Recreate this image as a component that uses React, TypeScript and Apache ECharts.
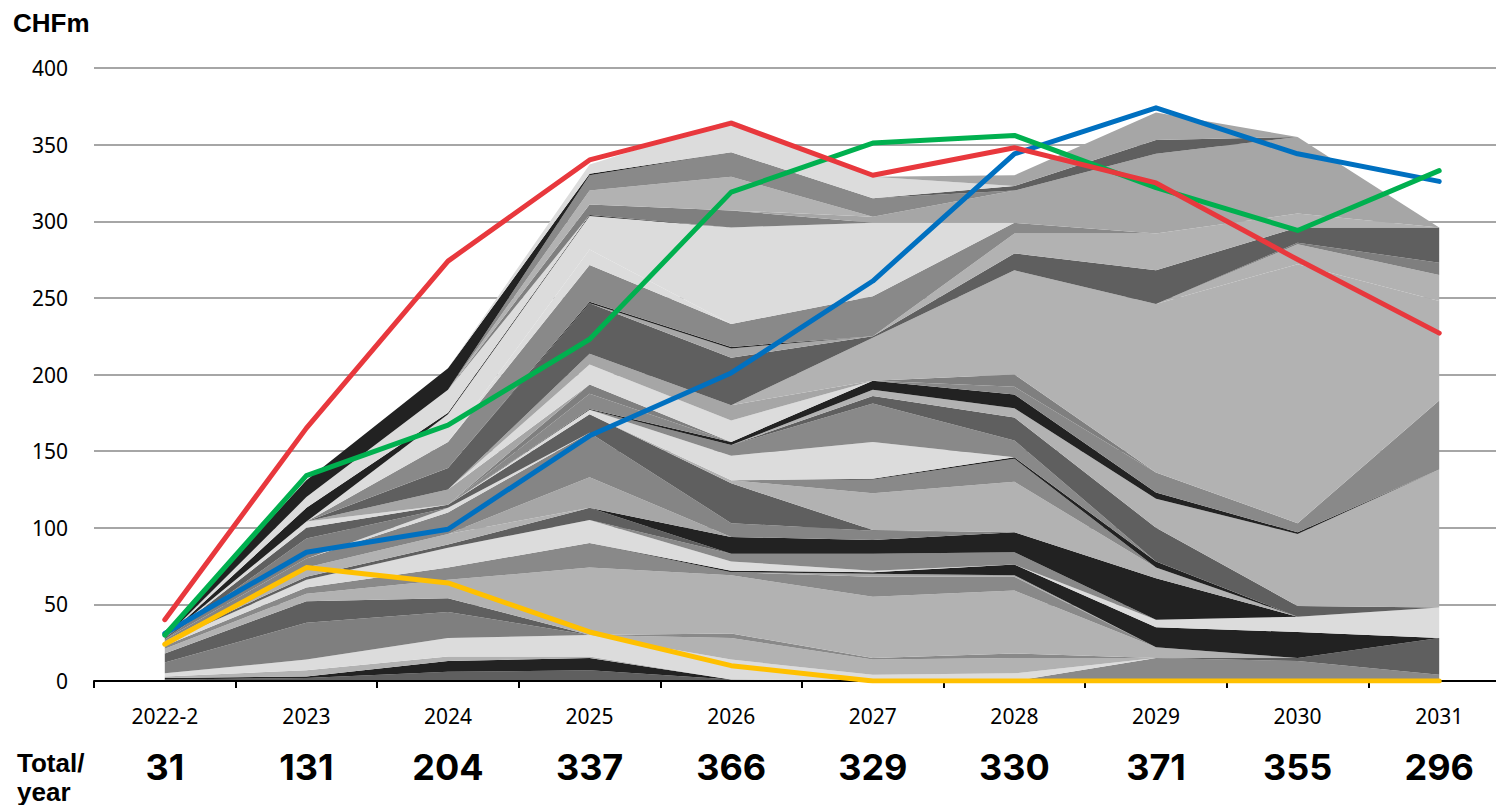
import React, { useEffect, useRef } from "react";
import * as echarts from "echarts";

// Categories and totals
const years = ["2022-2", "2023", "2024", "2025", "2026", "2027", "2028", "2029", "2030", "2031"];
const totals = ["31", "131", "204", "337", "366", "329", "330", "371", "355", "296"];

// Lines (CHFm)
const redLine = [40, 165, 274, 340, 364, 330, 348, 325, 275, 227];
const greenLine = [30, 134, 167, 223, 319, 351, 356, 322, 294, 333];
const blueLine = [31, 84, 99, 160, 201, 261, 344, 374, 344, 326];
const yellowLine = [24, 74, 64, 32, 10, 0, 0, 0, 0, 0];

// Stacked layers, bottom to top (CHFm per year)
const A1 = [1, 2, 6, 7, 1, 0, 0, 0, 0, 0];
const A2 = [1, 1, 7, 8, 0, 0, 0, 0, 0, 0];
const A3 = [0, 0, 0, 0, 0, 0, 0, 15, 13, 4];
const A4 = [1, 4, 3, 1, 0, 0, 0, 0, 0, 0];
const A5 = [2, 7, 12, 14, 13, 4, 5, 0, 0, 0];
const A6 = [0, 0, 0, 0, 14, 10, 10, 0, 0, 0];
const A7 = [0, 0, 0, 0, 3, 1, 3, 0, 0, 0];
const A8 = [0, 0, 0, 0, 0, 0, 0, 0, 2, 24];
const A9 = [7, 24, 17, 0, 0, 0, 0, 0, 0, 0];
const A10 = [6, 14, 9, 0, 0, 0, 0, 0, 0, 0];
const A11 = [3, 5, 12, 44, 38, 40, 41, 7, 0, 0];
const A12 = [2, 4, 8, 16, 2, 13, 9, 0, 0, 0];
const A13 = [0, 0, 0, 0, 0, 2, 1, 0, 0, 0];
const A14 = [0, 0, 0, 0, 1, 1, 7, 13, 17, 0];
const A15 = [2, 5, 13, 15, 6, 1, 0, 5, 10, 20];
const A16 = [0, 0, 0, 0, 5, 11, 8, 0, 0, 0];
const A17 = [1, 2, 2, 8, 0, 0, 0, 0, 0, 0];
const A18 = [0, 0, 0, 0, 11, 9, 13, 27, 0, 0];
const U0 = [0, 6, 7, 0, 0, 0, 0, 0, 0, 0];
const U1 = [0, 0, 0, 20, 0, 0, 0, 0, 0, 0];
const U2 = [1, 6, 14, 29, 9, 6, 0, 0, 0, 0];
const U3 = [0, 0, 3, 0, 0, 0, 0, 0, 0, 0];
const U4 = [0, 13, 0, 0, 0, 0, 0, 0, 0, 0];
const U5 = [1, 7, 2, 12, 26, 0.5, 0, 0, 0, 0];
const A19 = [0, 0, 0, 0, 2, 24, 33, 7, 0, 0];
const A20 = [0, 0, 0, 0, 0, 9, 15, 0, 0, 0];
const A21 = [0, 0, 0, 0, 0, 0.5, 1, 4, 0, 0];
const A22 = [0, 4, 0, 3, 16, 24, 0, 0, 0, 0];
const A23 = [0, 0, 0, 0, 7, 25, 11, 0, 0, 0];
const A24 = [0, 0, 0, 0, 0, 5, 15, 22, 7, 0];
const X1 = [0, 0, 0, 0, 0, 4, 6, 19, 47, 90];
const X2b = [0, 0, 0, 0.5, 2, 6, 9, 4, 1, 0];
const X3 = [0, 0, 0, 10, 0, 0, 5, 13, 6, 45];
const X3b = [0, 0, 0, 6, 0, 0, 8, 0, 0, 0];
const Y1 = [0, 0, 10, 0, 0, 0, 0, 0, 0, 0];
const Y2 = [0, 0, 0, 13, 14, 0, 0, 0, 0, 0];
const Y3 = [0, 0, 0, 7, 10, 0, 0, 0, 0, 0];
const Y4 = [0, 0, 0, 0, 0, 28, 68, 110, 169, 65];
const Y5 = [0, 0, 0, 0, 0, 0, 0, 0, 13, 17];
const Y6 = [0, 0, 0, 0, 0, 0, 0, 0, 1, 8];
const Y7 = [0, 0, 14, 33, 31, 1, 11, 22, 10, 23];
const Y8 = [0, 0, 0, 0, 6, 0, 0, 0, 0, 0];
const Y9 = [0, 0, 0, 1, 1, 0, 0, 0, 0, 0];
const Y11 = [0, 0, 0, 0, 0, 0, 13, 24, 9, 0];
const Y10 = [0, 0, 17, 24, 15, 26, 7, 0, 0, 0];
const Y13 = [0, 0, 0, 10, 0, 0, 0, 0, 0, 0];
const Y14 = [0, 0, 18, 22, 63, 48, 0, 0, 0, 0];
const X2a = [0, 9, 1, 0.5, 0, 0, 0, 0, 0, 0];
const Y15 = [0, 7, 15, 0, 0, 0, 0, 0, 0, 0];
const Y16 = [0, 0, 0, 7, 11, 0, 0, 0, 0, 0];
const Y17 = [0, 0, 0, 0, 0, 4, 21, 52, 50, 0];
const Y18 = [0, 0, 0, 9, 22, 0, 0, 0, 0, 0];
const Y19 = [0, 0, 0, 10, 16, 12, 0, 0, 0, 0];
const Y20 = [0, 0, 0, 0, 0, 0, 3, 9, 0, 0];
const Y21 = [3, 11, 14, 1, 0, 0, 0, 0, 0, 0];
const Y22 = [0, 0, 0, 6, 21, 14, 0, 0, 0, 0];
const Y23 = [0, 0, 0, 0, 0, 0, 7, 18, 0, 0];

const layers = [
  A1, A2, A3, A4, A5, A6, A7, A8, A9, A10, A11, A12, A13, A14, A15, A16, A17, A18,
  U0, U1, U2, U3, U4, U5,
  A19, A20, A21, A22, A23, A24,
  X1, X2b, X3, X3b,
  Y1, Y2, Y3, Y4, Y5, Y6, Y7, Y8, Y9, Y11, Y10, Y13, Y14, X2a, Y15, Y16, Y17, Y18, Y19, Y20, Y21, Y22, Y23,
];

const DK = "#5f5f5f";
const BK = "#222222";
const M9 = "#898989";
const M7 = "#7f7f7f";
const B2 = "#b2b2b2";
const A6c = "#a6a6a6";
const LT = "#dcdcdc";
const M8 = "#858585";

const layerColors = [
  DK, BK, M9, B2, LT, B2, M9, DK, M7, DK, B2, M9, A6c, BK, LT, M9, DK, BK,
  B2, A6c, M8, LT, M7, DK,
  B2, M9, BK, LT, M9, DK,
  B2, BK, M9, M7,
  A6c, LT, A6c, B2, B2, M7, DK, A6c, BK, B2, M9, LT, LT, BK, LT, M7, A6c, B2, M9, DK, BK, LT, A6c,
];

export default function App() {
  const ref = useRef<HTMLDivElement>(null);
  useEffect(() => {
    const chart = echarts.init(ref.current!, null, { renderer: "svg" });
    const areaSeries = layers.map((data, i) => ({
      type: "line",
      stack: "gray",
      data,
      symbol: "none",
      silent: true,
      z: 1,
      lineStyle: { width: 0 },
      areaStyle: { color: layerColors[i], opacity: 1 },
    }));
    const mkLine = (data: number[], color: string) => ({
      type: "line",
      data,
      symbol: "none",
      silent: true,
      z: 5,
      lineStyle: { width: 5, color, cap: "round", join: "round" },
    });
    chart.setOption({
      animation: false,
      grid: { left: 94, width: 1416, top: 68, bottom: 124, containLabel: false },
      graphic: [
        {
          type: "text",
          left: 13,
          top: 10,
          style: { text: "CHFm", font: "bold 26px 'Liberation Sans', Arial, sans-serif", fill: "#000" },
        },
        {
          type: "text",
          left: 17,
          top: 748,
          style: {
            text: "Total/\nyear",
            font: "bold 26px 'Liberation Sans', Arial, sans-serif",
            lineHeight: 29,
            fill: "#000",
          },
        },
      ],
      xAxis: [
        {
          type: "category",
          data: years,
          axisLine: { lineStyle: { color: "#000", width: 2 } },
          axisTick: { show: true, length: 7, lineStyle: { color: "#000", width: 2 } },
          axisLabel: { fontSize: 21, color: "#000", fontFamily: "'Noto Sans', sans-serif", margin: 24 },
          z: 2,
        },
        {
          type: "category",
          data: totals,
          position: "bottom",
          offset: 56,
          axisLine: { show: false },
          axisTick: { show: false },
          axisLabel: {
            fontSize: 36,
            fontWeight: "bold",
            color: "#000",
            fontFamily: "Inter, 'Liberation Sans', Arial, sans-serif",
            margin: 12,
          },
        },
      ],
      yAxis: {
        type: "value",
        min: 0,
        max: 400,
        interval: 50,
        axisLine: { show: false },
        axisTick: { show: false },
        axisLabel: { fontSize: 21, color: "#000", fontFamily: "'Noto Sans', sans-serif", margin: 26 },
        splitLine: { lineStyle: { color: "#a6a6a6", width: 2 } },
      },
      series: [
        ...areaSeries,
        mkLine(yellowLine, "#FFC000"),
        mkLine(blueLine, "#0070C0"),
        mkLine(greenLine, "#00B04F"),
        mkLine(redLine, "#E8383D"),
      ],
    });
    return () => chart.dispose();
  }, []);
  return (
    <div style={{ position: "absolute", left: 0, top: 0, width: 1496, height: 805, overflow: "hidden" }}>
      <div ref={ref} style={{ width: 1510, height: 805 }} />
    </div>
  );
}
